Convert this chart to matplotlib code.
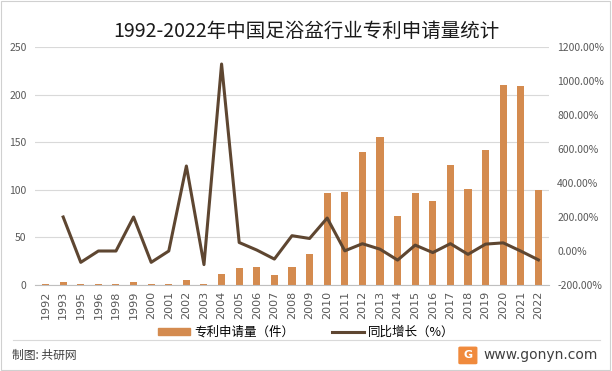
import numpy as np
import matplotlib.pyplot as plt
from matplotlib.patches import Rectangle, FancyBboxPatch
from matplotlib.lines import Line2D

plt.rcParams['font.family'] = ['Noto Sans CJK SC', 'DejaVu Sans']

# 数据
years = ['1992', '1993', '1995', '1996', '1998', '1999', '2000', '2001', '2002',
         '2003', '2004', '2005', '2006', '2007', '2008', '2009', '2010', '2011',
         '2012', '2013', '2014', '2015', '2016', '2017', '2018', '2019', '2020',
         '2021', '2022']
patents = [1, 3, 1, 1, 1, 3, 1, 1, 5, 1, 12, 18, 19, 10, 19, 33, 97, 98,
           140, 155, 72, 97, 88, 126, 101, 142, 210, 209, 100]
growth = [np.nan, 200, -66.7, 0, 0, 200, -66.7, 0, 500, -80, 1100, 50, 5.6,
          -47.4, 90, 73.7, 193.9, 1.0, 42.9, 10.7, -53.5, 34.7, -9.3, 43.2,
          -19.8, 40.6, 47.9, -0.5, -52.2]

bar_color = '#D48B4F'
line_color = '#5E4631'
tick_color = '#595959'

fig = plt.figure(figsize=(6.12, 3.71), dpi=100)
ax = fig.add_axes([0.0572, 0.2318, 0.897 - 0.0572, 0.8733 - 0.2318])
x = np.arange(len(years))

ax.bar(x, patents, width=0.4, color=bar_color, zorder=2)
ax.set_ylim(0, 250)
ax.set_yticks(np.arange(0, 251, 50))
ax.set_xlim(-0.6, len(years) - 0.4)
ax.set_xticks(x)
ax.set_xticklabels(years, rotation=90, fontsize=8, color=tick_color,
                   family='DejaVu Sans')
ax.grid(axis='y', color='#D9D9D9', linewidth=0.8, zorder=0)
ax.tick_params(axis='y', length=0, labelsize=7.5, labelcolor=tick_color, pad=6)
ax.tick_params(axis='x', length=0, pad=4)
for s in ['top', 'right', 'left']:
    ax.spines[s].set_visible(False)
ax.spines['bottom'].set_color('#BFBFBF')

ax2 = ax.twinx()
ax2.plot(x, growth, color=line_color, linewidth=2.2, zorder=3)
ax2.set_ylim(-200, 1200)
ax2.set_yticks(np.arange(-200, 1201, 200))
ax2.set_yticklabels(['{:.2f}%'.format(v) for v in np.arange(-200, 1201, 200)])
ax2.tick_params(axis='y', length=0, labelsize=7.5, labelcolor=tick_color, pad=6)
for s in ['top', 'right', 'left', 'bottom']:
    ax2.spines[s].set_visible(False)

fig.text(0.5, 0.915, '1992-2022年中国足浴盆行业专利申请量统计', ha='center',
         va='center', fontsize=14, color='#1a1a1a')

# 图例
handles = [Rectangle((0, 0), 1, 1, color=bar_color),
           Line2D([0], [0], color=line_color, linewidth=2.2)]
fig.legend(handles, ['专利申请量（件）', '同比增长（%）'], loc='center',
           bbox_to_anchor=(0.5, 0.105), ncol=2, frameon=False, fontsize=9,
           handlelength=2.6, handleheight=0.5, columnspacing=3, handletextpad=0.3)

# 底部
fig.add_artist(Line2D([0.022, 0.98], [0.083, 0.083], color='#D9D9D9',
                      linewidth=0.8, transform=fig.transFigure))
fig.text(0.02, 0.042, '制图: 共研网', fontsize=8.5, va='center', color='#404040')
fig.text(0.977, 0.042, 'www.gonyn.com', fontsize=10, va='center', ha='right',
         color='#404040', family='DejaVu Sans')
fig.add_artist(FancyBboxPatch((0.752, 0.022), 0.025, 0.04,
                              boxstyle='round,pad=0.002', color='#F08A3C',
                              transform=fig.transFigure))
fig.text(0.7645, 0.042, 'G', fontsize=8, va='center', ha='center',
         color='white', weight='bold', family='DejaVu Sans')
fig.add_artist(Rectangle((0.002, 0.003), 0.995, 0.993, fill=False,
                         edgecolor='#D0D0D0', linewidth=0.8,
                         transform=fig.transFigure))

fig.savefig('out.png', dpi=100)
